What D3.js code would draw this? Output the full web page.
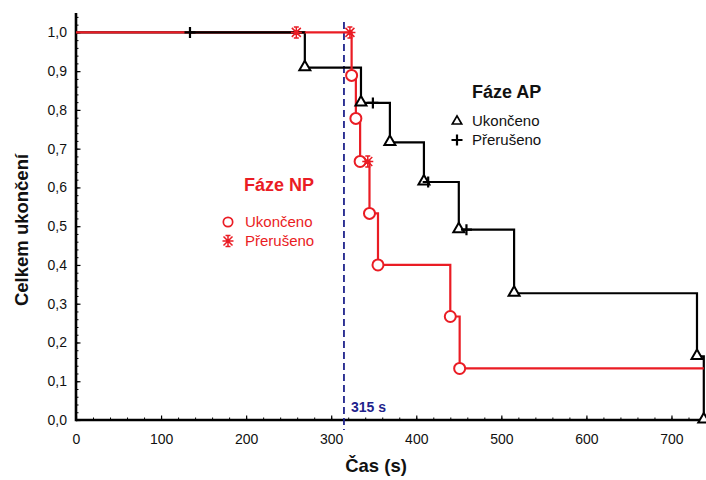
<!DOCTYPE html>
<html>
<head>
<meta charset="utf-8">
<script src="https://cdn.jsdelivr.net/npm/d3@7"></script>
<style>
  html, body { margin: 0; padding: 0; background: #fff; }
  svg { display: block; font-family: "Liberation Sans", Arial, sans-serif; }
</style>
</head>
<body>
<svg id="chart" width="706" height="480"></svg>
<script>
// Kaplan–Meier style step curves for two phases (AP, NP)
const apEventTimes   = [269, 335, 369, 409, 450, 515, 730, 738];
const apEventLevels  = [0.909, 0.818, 0.716, 0.614, 0.491, 0.327, 0.164, 0.0];
const apCensorTimes  = [134, 349, 414, 459];
const apCensorLevels = [1.0, 0.818, 0.614, 0.491];

const npEventTimes   = [324, 329, 334, 345, 355, 440, 451];
const npEventLevels  = [0.889, 0.778, 0.667, 0.533, 0.400, 0.267, 0.133];
const npCensorTimes  = [259, 322, 343];
const npCensorLevels = [1.0, 1.0, 0.667];
const npEndTime      = 738;

const markerTime  = 315;
const markerLabel = "315 s";

const xTicks = [0, 100, 200, 300, 400, 500, 600, 700];
const yTicks = [0, 0.1, 0.2, 0.3, 0.4, 0.5, 0.6, 0.7, 0.8, 0.9, 1.0];

const RED = "#ea1c24";
const NAVY = "#1f238c";

const svg = d3.select("#chart");

const x = d3.scaleLinear().domain([0, 740]).range([76, 705.5]);
const y = d3.scaleLinear().domain([0, 1.05]).range([420, 13]);

// minor ticks
const xMinor = d3.range(0, 741, 20);
const yMinor = d3.range(0, 1.041, 0.02);

svg.append("g")
  .attr("transform", `translate(0,${y(0)})`)
  .call(d3.axisBottom(x).tickValues(xMinor).tickSize(-2.5).tickSizeOuter(0).tickFormat(""))
  .call(g => g.select(".domain").remove())
  .call(g => g.selectAll("line").attr("stroke", "#000").attr("stroke-width", 1));

svg.append("g")
  .attr("transform", `translate(${x(0)},0)`)
  .call(d3.axisLeft(y).tickValues(yMinor).tickSize(-2.5).tickSizeOuter(0).tickFormat(""))
  .call(g => g.select(".domain").remove())
  .call(g => g.selectAll("line").attr("stroke", "#000").attr("stroke-width", 1));

// major axes
svg.append("g")
  .attr("transform", `translate(0,${y(0)})`)
  .call(d3.axisBottom(x).tickValues(xTicks).tickSize(-4.5).tickSizeOuter(0).tickPadding(14))
  .call(g => g.select(".domain").remove())
  .call(g => g.selectAll("line").attr("stroke", "#000").attr("stroke-width", 1.2))
  .call(g => g.selectAll("text").attr("font-size", 14).attr("fill", "#111")
    .attr("font-family", "Liberation Sans, Arial, sans-serif"));

svg.append("g")
  .attr("transform", `translate(${x(0)},0)`)
  .call(d3.axisLeft(y).tickValues(yTicks).tickSize(-4.5).tickSizeOuter(0).tickPadding(9)
    .tickFormat(d => d3.format(".1f")(d).replace(".", ",")))
  .call(g => g.select(".domain").remove())
  .call(g => g.selectAll("line").attr("stroke", "#000").attr("stroke-width", 1.2))
  .call(g => g.selectAll("text").attr("font-size", 14).attr("fill", "#111")
    .attr("font-family", "Liberation Sans, Arial, sans-serif"));

// axis lines
svg.append("line")
  .attr("x1", x(0)).attr("x2", 706).attr("y1", y(0)).attr("y2", y(0))
  .attr("stroke", "#000").attr("stroke-width", 2.6);
svg.append("line")
  .attr("x1", x(0)).attr("x2", x(0)).attr("y1", y(1.05)).attr("y2", y(0) + 1.3)
  .attr("stroke", "#000").attr("stroke-width", 2.6);

// axis titles
svg.append("text")
  .attr("x", 376).attr("y", 472)
  .attr("text-anchor", "middle")
  .attr("font-size", 18.5).attr("font-weight", "bold").attr("fill", "#111")
  .text("Čas (s)");

svg.append("text")
  .attr("transform", `translate(28,230) rotate(-90)`)
  .attr("text-anchor", "middle")
  .attr("font-size", 18.5).attr("font-weight", "bold").attr("fill", "#111")
  .text("Celkem ukončení");

// reference time marker
svg.append("line")
  .attr("x1", x(markerTime)).attr("x2", x(markerTime))
  .attr("y1", 22).attr("y2", 430)
  .attr("stroke", NAVY).attr("stroke-width", 1.8).attr("stroke-dasharray", "7,4");
svg.append("text")
  .attr("x", x(markerTime) + 7).attr("y", 412)
  .attr("font-size", 14).attr("font-weight", "bold").attr("fill", NAVY)
  .text(markerLabel);

// step curves
const stepLine = d3.line().x(d => x(d[0])).y(d => y(d[1])).curve(d3.curveStepAfter);

const apPoints = [[0, 1]].concat(apEventTimes.map((t, i) => [t, apEventLevels[i]]));
const npPoints = [[0, 1]].concat(npEventTimes.map((t, i) => [t, npEventLevels[i]]))
  .concat([[npEndTime, npEventLevels[npEventLevels.length - 1]]]);

svg.append("path").attr("d", stepLine(apPoints))
  .attr("fill", "none").attr("stroke", "#000").attr("stroke-width", 2.2);
svg.append("path").attr("d", stepLine(npPoints))
  .attr("fill", "none").attr("stroke", RED).attr("stroke-width", 2.2);
// black plateau segment sits above the red one between first censoring and first event
svg.append("path").attr("d", stepLine([[apCensorTimes[0], 1], [apEventTimes[0], 1]]))
  .attr("fill", "none").attr("stroke", "#000").attr("stroke-width", 2.2);

// marker shapes
function triangle(g) {
  g.append("path").attr("d", "M0,-6L5.5,3.5L-5.5,3.5Z")
    .attr("fill", "#fff").attr("stroke", "#000").attr("stroke-width", 2).attr("stroke-linejoin", "miter");
}
function cross(g, color) {
  g.append("path").attr("d", "M-5.5,0H5.5M0,-5.5V5.5")
    .attr("stroke", color).attr("stroke-width", 2.2).attr("fill", "none");
}
function circle(g) {
  g.append("circle").attr("r", 5.5)
    .attr("fill", "#fff").attr("stroke", RED).attr("stroke-width", 2);
}
function star(g) {
  g.append("path")
    .attr("d", "M0,-5.5V5.5M-4.5,-4.5L4.5,4.5M-4.5,4.5L4.5,-4.5M-2.5,-5.5H2.5M-2.5,5.5H2.5M-5.5,0H5.5")
    .attr("stroke", RED).attr("stroke-width", 1.5).attr("fill", "none");
}

const gm = svg.append("g");
apEventTimes.forEach((t, i) => {
  const g = gm.append("g").attr("transform", `translate(${x(t)},${y(apEventLevels[i]) - 1})`);
  triangle(g);
});
apCensorTimes.forEach((t, i) => {
  const g = gm.append("g").attr("transform", `translate(${x(t)},${y(apCensorLevels[i])})`);
  cross(g, "#000");
});
npEventTimes.forEach((t, i) => {
  const g = gm.append("g").attr("transform", `translate(${x(t)},${y(npEventLevels[i])})`);
  circle(g);
});
npCensorTimes.forEach((t, i) => {
  const g = gm.append("g").attr("transform", `translate(${x(t)},${y(npCensorLevels[i])})`);
  star(g);
});

// legends
const legAP = svg.append("g");
legAP.append("text").attr("x", 472).attr("y", 98)
  .attr("font-size", 18).attr("font-weight", "bold").attr("fill", "#111").text("Fáze AP");
triangle(legAP.append("g").attr("transform", "translate(457,121) scale(0.85)"));
legAP.append("text").attr("x", 472).attr("y", 126)
  .attr("font-size", 15).attr("fill", "#111").text("Ukončeno");
cross(legAP.append("g").attr("transform", "translate(457,140)"), "#000");
legAP.append("text").attr("x", 472).attr("y", 145)
  .attr("font-size", 15).attr("fill", "#111").text("Přerušeno");

const legNP = svg.append("g");
legNP.append("text").attr("x", 244).attr("y", 191)
  .attr("font-size", 18).attr("font-weight", "bold").attr("fill", RED).text("Fáze NP");
circle(legNP.append("g").attr("transform", "translate(228,222) scale(0.85)"));
legNP.append("text").attr("x", 245).attr("y", 227)
  .attr("font-size", 15).attr("fill", RED).text("Ukončeno");
star(legNP.append("g").attr("transform", "translate(228,241)"));
legNP.append("text").attr("x", 245).attr("y", 246)
  .attr("font-size", 15).attr("fill", RED).text("Přerušeno");
</script>
</body>
</html>
